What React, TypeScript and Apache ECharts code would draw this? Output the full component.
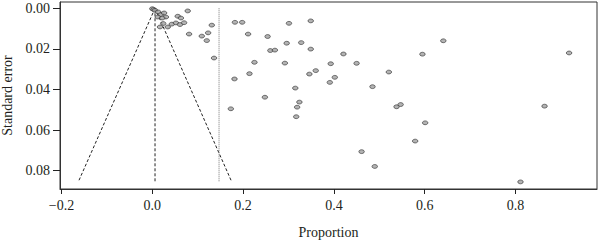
import React, { useEffect, useRef } from "react";
import * as echarts from "echarts";

// Study points: [proportion, standard error]
const studies: [number, number][] = [
  [0.000, 0.0002], [0.003, 0.0006], [0.006, 0.0010], [0.013, 0.0018], [0.019, 0.0031],
  [0.026, 0.0023], [0.030, 0.0043], [0.012, 0.0043], [0.022, 0.0048], [0.056, 0.0039],
  [0.063, 0.0048], [0.078, 0.0013], [0.024, 0.0075], [0.017, 0.0092], [0.034, 0.0092],
  [0.043, 0.0078], [0.052, 0.0072], [0.061, 0.0080], [0.070, 0.0071], [0.131, 0.0083],
  [0.081, 0.0127], [0.123, 0.0121], [0.109, 0.0137], [0.120, 0.0159], [0.136, 0.0245],
  [0.182, 0.0069], [0.198, 0.0069], [0.211, 0.0127], [0.254, 0.0139], [0.301, 0.0074],
  [0.349, 0.0062], [0.296, 0.0172], [0.328, 0.0169], [0.260, 0.0208], [0.270, 0.0206],
  [0.349, 0.0201], [0.225, 0.0266], [0.292, 0.0270], [0.393, 0.0273], [0.421, 0.0225],
  [0.450, 0.0271], [0.214, 0.0322], [0.181, 0.0348], [0.346, 0.0324], [0.360, 0.0307],
  [0.402, 0.0340], [0.391, 0.0365], [0.315, 0.0393], [0.485, 0.0386], [0.521, 0.0314],
  [0.248, 0.0438], [0.324, 0.0462], [0.319, 0.0487], [0.173, 0.0495], [0.317, 0.0534],
  [0.538, 0.0485], [0.547, 0.0474], [0.595, 0.0226], [0.641, 0.0160], [0.918, 0.0220],
  [0.864, 0.0482], [0.601, 0.0564], [0.579, 0.0654], [0.461, 0.0706], [0.490, 0.0779],
  [0.811, 0.0855],
];

const funnelLeft: [number, number][] = [[0.006, 0], [-0.163, 0.0855]];
const funnelRight: [number, number][] = [[0.006, 0], [0.175, 0.0855]];
const centerLine: [number, number][] = [[0.006, 0], [0.006, 0.0855]];
const pooledLine: [number, number][] = [[0.147, 0], [0.147, 0.0855]];

const xTicks = [-0.2, 0.0, 0.2, 0.4, 0.6, 0.8];
const yTicks = [0.0, 0.02, 0.04, 0.06, 0.08];

const FONT = "'Liberation Serif', 'DejaVu Serif', serif";
const TEXT = "#231f20";

export default function App() {
  const ref = useRef<HTMLDivElement>(null);
  useEffect(() => {
    if (!ref.current) return;
    const chart = echarts.init(ref.current, undefined, { renderer: "svg" });
    const lineSeries = (data: [number, number][], color: string, dash: number[]) => ({
      type: "line",
      data,
      symbol: "none",
      silent: true,
      lineStyle: { color, width: 1, type: dash },
      z: 1,
    });
    chart.setOption({
      animation: false,
      grid: {
        left: 60,
        top: 2,
        right: 3,
        bottom: 52,
        show: true,
        borderColor: "#333",
        borderWidth: 1,
        containLabel: false,
        outerBoundsMode: "none",
      },
      xAxis: {
        type: "value",
        min: -0.2033,
        max: 0.9795,
        splitLine: { show: false },
        axisLine: { show: true, onZero: false, lineStyle: { color: "#333", width: 1 } },
        axisTick: { show: true, inside: false, length: 5, customValues: xTicks, lineStyle: { color: "#222", width: 1 } },
        axisLabel: {
          customValues: xTicks,
          margin: 9,
          color: TEXT,
          fontFamily: FONT,
          fontSize: 14,
          formatter: (v: number) => (v < 0 ? "\u2212" + Math.abs(v).toFixed(1) : v.toFixed(1)),
        },
        name: "Proportion",
        nameLocation: "middle",
        nameGap: 36,
        nameTextStyle: { color: TEXT, fontFamily: FONT, fontSize: 14 },
      },
      yAxis: {
        type: "value",
        inverse: true,
        min: -0.0031,
        max: 0.089,
        splitLine: { show: false },
        axisLine: { show: true, onZero: false, lineStyle: { color: "#333", width: 1 } },
        axisTick: { show: true, inside: false, length: 7, customValues: yTicks, lineStyle: { color: "#222", width: 1 } },
        axisLabel: {
          customValues: yTicks,
          margin: 10,
          color: TEXT,
          fontFamily: FONT,
          fontSize: 14,
          formatter: (v: number) => v.toFixed(2),
        },
        name: "Standard error",
        nameLocation: "middle",
        nameGap: 46,
        nameTextStyle: { color: TEXT, fontFamily: FONT, fontSize: 14 },
      },
      series: [
        lineSeries(funnelLeft, "#222", [3, 2]),
        lineSeries(funnelRight, "#222", [3, 2]),
        lineSeries(centerLine, "#222", [3, 2]),
        lineSeries(pooledLine, "#777", [1, 1]),
        {
          type: "scatter",
          data: studies,
          symbol: "circle",
          symbolSize: [5.5, 3.8],
          itemStyle: { color: "#a0a0a0", borderColor: "#333", borderWidth: 0.8 },
          z: 3,
        },
      ],
    });
    return () => chart.dispose();
  }, []);
  return (
    <div
      ref={ref}
      style={{ position: "fixed", left: 0, top: 0, width: 600, height: 241, background: "#fff" }}
    />
  );
}
